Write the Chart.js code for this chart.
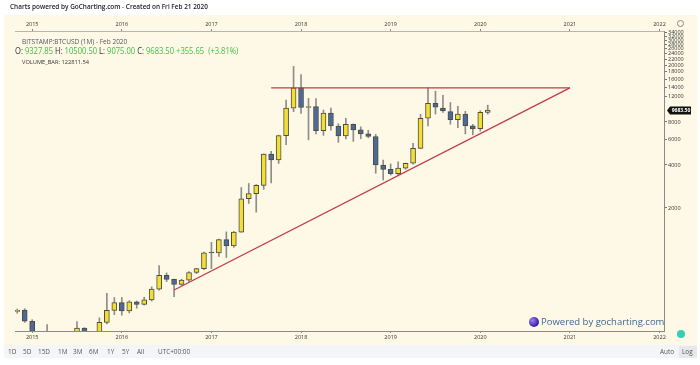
<!DOCTYPE html>
<html>
<head>
<meta charset="utf-8">
<script src="https://cdn.jsdelivr.net/npm/chart.js@4.4.1/dist/chart.umd.min.js"></script>
<style>
  body { margin: 0; background: #fff; font-family: 'Open Sans', sans-serif; }
  #wrap { position: relative; width: 700px; height: 365px; overflow: hidden; }
  #panel { position: absolute; left: 4px; top: 15px; width: 693px; height: 330px; background: #fdf9e6; }
  #toolbar { position: absolute; left: 4px; top: 345px; width: 693px; height: 13px; background: #f3f5f8; }
  #chart { position: absolute; left: 0; top: 0; }
  .t { position: absolute; white-space: nowrap; line-height: 1; }
  #title { left: 10px; top: 3px; font-size: 7.4px; font-weight: 600; color: #222; transform: scaleX(0.87); transform-origin: left top; }
  #sym { left: 22px; top: 39px; font-size: 6.5px; color: #555; }
  #ohlc { left: 15px; top: 47px; font-size: 8.2px; color: #333; transform: scaleX(0.93); transform-origin: left top; }
  #ohlc b { font-weight: 400; color: #3fbf3f; }
  #vol { left: 22px; top: 60px; font-size: 5.7px; color: #333; }
  .tb { top: 349px; font-size: 6.4px; color: #555; }
  #logbox { position: absolute; left: 679px; top: 346px; width: 18px; height: 12px; background: #e6e8ec; }
  #powered { left: 541px; top: 316.5px; font-size: 9.5px; color: #3d6796; }
  #logo { position: absolute; left: 529px; top: 317px; width: 10px; height: 10px; border-radius: 50%;
          background: radial-gradient(circle at 35% 35%, #9b86f0, #4a2fb8 55%, #1c0f63); }
  #dot { position: absolute; left: 677px; top: 330px; width: 8px; height: 8px; border-radius: 50%; background: #38cdb6; }
  #gear { position: absolute; left: 677px; top: 20px; width: 5px; height: 5px; border-radius: 50%; border: 1px solid #888; }
</style>
</head>
<body>
<div id="wrap">
  <div id="panel"></div>
  <div id="toolbar"></div>
  <div id="logbox"></div>
  <canvas id="chart" width="700" height="365"></canvas>
  <div class="t" id="title">Charts powered by GoCharting.com - Created on Fri Feb 21 2020</div>
  <div class="t" id="sym">BITSTAMP:BTCUSD (1M) - Feb 2020</div>
  <div class="t" id="ohlc">O: <b>9327.85</b> H: <b>10500.50</b> L: <b>9075.00</b> C: <b>9683.50</b> <b>+355.65</b> &nbsp;<b>(+3.81%)</b></div>
  <div class="t" id="vol">VOLUME_BAR: 122811.54</div>
  <div id="logo"></div>
  <div class="t" id="powered">Powered by gocharting.com</div>
  <div id="dot"></div>
  <div id="gear"></div>
  <div class="t tb" style="left:8px">1D</div>
  <div class="t tb" style="left:23px">5D</div>
  <div class="t tb" style="left:38px">15D</div>
  <div class="t tb" style="left:58px">1M</div>
  <div class="t tb" style="left:73px">3M</div>
  <div class="t tb" style="left:89px">6M</div>
  <div class="t tb" style="left:107px">1Y</div>
  <div class="t tb" style="left:122px">5Y</div>
  <div class="t tb" style="left:137px">All</div>
  <div class="t tb" style="left:158px">UTC+00:00</div>
  <div class="t tb" style="left:660px">Auto</div>
  <div class="t tb" style="left:682px">Log</div>
</div>
<script>
// monthly BTCUSD candles (Bitstamp)
const months = [
  '2014-11','2014-12',
  '2015-01','2015-02','2015-03','2015-04','2015-05','2015-06','2015-07','2015-08','2015-09','2015-10','2015-11','2015-12',
  '2016-01','2016-02','2016-03','2016-04','2016-05','2016-06','2016-07','2016-08','2016-09','2016-10','2016-11','2016-12',
  '2017-01','2017-02','2017-03','2017-04','2017-05','2017-06','2017-07','2017-08','2017-09','2017-10','2017-11','2017-12',
  '2018-01','2018-02','2018-03','2018-04','2018-05','2018-06','2018-07','2018-08','2018-09','2018-10','2018-11','2018-12',
  '2019-01','2019-02','2019-03','2019-04','2019-05','2019-06','2019-07','2019-08','2019-09','2019-10','2019-11','2019-12',
  '2020-01','2020-02'
];
const opens = [
  377, 386,
  322, 217, 254, 244, 236, 230, 263, 288, 230, 236, 316, 384,
  435, 380, 440, 422, 454, 540, 676, 632, 584, 624, 706, 752,
  970, 968, 1200, 1085, 1355, 2320, 2520, 2880, 4760, 4340, 6420, 10000,
  13860, 10100, 10250, 6960, 9230, 7500, 6400, 7700, 7050, 6600, 6330, 4000,
  3730, 3470, 3800, 4110, 5230, 8500, 10800, 10000, 9450, 8300, 9100, 7530,
  7190, 9327.85
];
const highs = [
  392, 394,
  330, 265, 305, 261, 247, 268, 320, 290, 262, 340, 505, 472,
  472, 448, 446, 474, 560, 790, 702, 636, 634, 718, 756, 982,
  1150, 1210, 1360, 1370, 2780, 2970, 2920, 4780, 4980, 6460, 11400, 19600,
  17200, 11700, 11650, 9700, 10000, 7780, 8500, 7760, 7400, 7000, 6550, 4330,
  4070, 4200, 4130, 5680, 9050, 13880, 13150, 12300, 10950, 10300, 9500, 7700,
  9600, 10500.5
];
const lows = [
  366, 316,
  152, 212, 240, 215, 228, 220, 253, 198, 223, 235, 308, 358,
  355, 368, 397, 418, 445, 532, 610, 478, 576, 610, 693, 740,
  752, 915, 900, 1060, 1350, 2150, 1870, 2700, 3000, 4100, 5550, 9450,
  9200, 6000, 6600, 6450, 7000, 5760, 6080, 5850, 6100, 6200, 3500, 3140,
  3400, 3380, 3730, 4060, 5200, 7500, 9100, 9350, 7720, 7300, 6600, 6500,
  6900, 9075
];
const closes = [
  383, 322,
  217, 254, 244, 236, 230, 263, 288, 230, 236, 316, 384, 435,
  380, 440, 422, 454, 540, 676, 632, 584, 624, 706, 752, 970,
  968, 1200, 1085, 1355, 2320, 2520, 2880, 4760, 4340, 6420, 10000, 13860,
  10100, 10250, 6960, 9230, 7500, 6400, 7700, 7050, 6600, 6330, 4000, 3730,
  3470, 3800, 4110, 5230, 8500, 10800, 10150, 9550, 8300, 9100, 7530, 7150,
  9340, 9683.5
];

const yearLabels = ['2015', '2016', '2017', '2018', '2019', '2020', '2021', '2022'];
const priceTicks = [2000, 4000, 6000, 8000, 12000, 14000, 16000, 18000, 20000,
  22000, 24000, 26000, 28000, 30000, 32000, 34000];

// trend lines drawn on the chart
const resistance = [{ month: '2017-09', price: 13880 }, { month: '2021-01', price: 13880 }];
const support = [{ month: '2016-08', price: 533 }, { month: '2021-01', price: 13880 }];

// months since Jan 2015
function monthIndex(m) {
  const [y, mo] = m.split('-').map(Number);
  return (y - 2015) * 12 + (mo - 1);
}

const xs = months.map(monthIndex);
const up = '#f3de33';
const down = '#4b6a98';
const trendRed = '#c23b4b';

const wickData = xs.map((x, i) => ({ x, y: [lows[i], highs[i]] }));
const bodyData = xs.map((x, i) => ({ x, y: [opens[i], closes[i]] }));
const bodyColors = xs.map((x, i) => closes[i] >= opens[i] ? up : down);

const priceTag = {
  id: 'priceTag',
  afterDraw(chart) {
    const { ctx, chartArea, scales } = chart;
    const last = closes[closes.length - 1];
    const y = Math.round(scales.y.getPixelForValue(last)) + 0.5;
    const x = chartArea.right + 3;
    ctx.save();
    ctx.fillStyle = '#111';
    ctx.beginPath();
    ctx.moveTo(x, y);
    ctx.lineTo(x + 3, y - 4);
    ctx.lineTo(x + 24, y - 4);
    ctx.lineTo(x + 24, y + 4);
    ctx.lineTo(x + 3, y + 4);
    ctx.closePath();
    ctx.fill();
    ctx.fillStyle = '#fff';
    ctx.font = 'bold 5px "Open Sans"';
    ctx.textAlign = 'center';
    ctx.textBaseline = 'middle';
    ctx.fillText(last.toFixed(2), x + 14, y + 0.5);
    ctx.restore();
  }
};

const tickFont = { family: 'Open Sans', size: 5.5 };

new Chart(document.getElementById('chart'), {
  type: 'bar',
  data: {
    datasets: [
      {
        data: wickData,
        backgroundColor: '#8d8d8d',
        borderWidth: 0,
        barThickness: 1,
        grouped: false,
        order: 3
      },
      {
        data: bodyData,
        backgroundColor: bodyColors,
        borderColor: '#4d4d40',
        borderWidth: 1,
        borderSkipped: false,
        barThickness: 5,
        minBarLength: 1,
        grouped: false,
        order: 2
      },
      {
        type: 'line',
        data: resistance.map(p => ({ x: monthIndex(p.month), y: p.price })),
        borderColor: trendRed,
        borderWidth: 1.3,
        pointRadius: 0,
        order: 1
      },
      {
        type: 'line',
        data: support.map(p => ({ x: monthIndex(p.month), y: p.price })),
        borderColor: trendRed,
        borderWidth: 1.3,
        pointRadius: 0,
        order: 1
      }
    ]
  },
  options: {
    responsive: false,
    animation: false,
    events: [],
    layout: { padding: { left: 15, right: 0, top: 15, bottom: 20 } },
    plugins: { legend: { display: false }, tooltip: { enabled: false } },
    scales: {
      x: {
        type: 'linear',
        position: 'bottom',
        offset: false,
        min: -2.3,
        max: 84.6,
        afterBuildTicks: s => { s.ticks = yearLabels.map((y, i) => ({ value: i * 12 })); },
        afterFit: s => { s.height = 14; },
        ticks: {
          autoSkip: false, maxRotation: 0, padding: 1, color: '#333', font: tickFont,
          callback: v => yearLabels[Math.round(v / 12)]
        },
        grid: { drawOnChartArea: false, offset: false, tickLength: 2, color: '#888' },
        border: { color: '#8a8a8a' }
      },
      x2: {
        type: 'linear',
        position: 'top',
        offset: false,
        min: -2.3,
        max: 84.6,
        afterBuildTicks: s => { s.ticks = yearLabels.map((y, i) => ({ value: i * 12 })); },
        afterFit: s => { s.height = 16; },
        ticks: {
          autoSkip: false, maxRotation: 0, padding: 1, color: '#333', font: tickFont,
          callback: v => yearLabels[Math.round(v / 12)]
        },
        grid: { drawOnChartArea: false, offset: false, tickLength: 2, color: '#888' },
        border: { color: '#b5b5b5' }
      },
      y: {
        type: 'logarithmic',
        position: 'right',
        min: 275,
        max: 34700,
        afterBuildTicks: s => { s.ticks = priceTicks.map(v => ({ value: v })); },
        afterFit: s => { s.width = 36; },
        ticks: {
          autoSkip: false, padding: 1, color: '#333', font: tickFont,
          callback: v => String(v)
        },
        grid: { drawOnChartArea: false, tickLength: 3, color: '#777' },
        border: { color: '#8a8a8a' }
      }
    }
  },
  plugins: [priceTag]
});
</script>
</body>
</html>
